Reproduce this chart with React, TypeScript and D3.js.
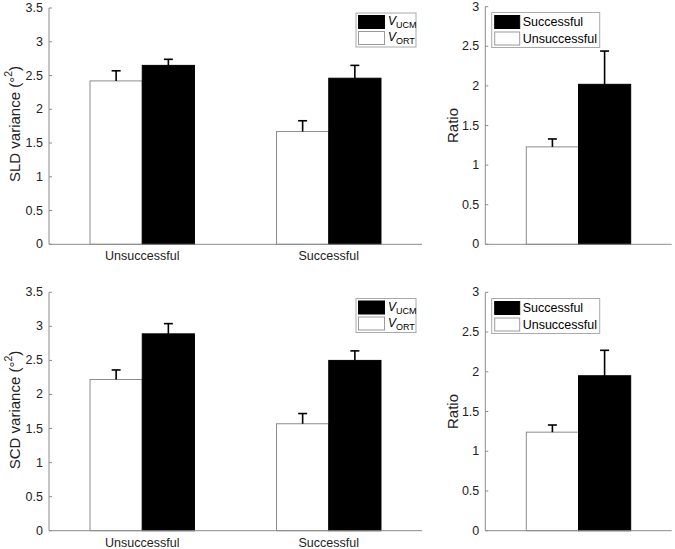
import React from "react";
import * as d3 from "d3";

const groups = ["Unsuccessful", "Successful"];
const series = ["VORT", "VUCM"];

const sldMean = [[2.42, 2.65], [1.67, 2.46]]; // [group][series: ORT, UCM]
const sldErr = [[2.57, 2.74], [1.83, 2.65]];
const scdMean = [[2.22, 2.89], [1.57, 2.5]];
const scdErr = [[2.36, 3.04], [1.72, 2.64]];

const ratioCats = ["Unsuccessful", "Successful"];
const ratioTopMean = [1.23, 2.02];
const ratioTopErr = [1.33, 2.44];
const ratioBotMean = [1.24, 1.95];
const ratioBotErr = [1.33, 2.27];

const leftTicks = [0, 0.5, 1, 1.5, 2, 2.5, 3, 3.5];
const rightTicks = [0, 0.5, 1, 1.5, 2, 2.5, 3];

const FONT = "'Liberation Sans', Arial, Helvetica, sans-serif";
const AXC = "#8c8c8c";

type BarSpec = { x: number; v: number; e: number; fill: string };

function Axes({ left, right, top, bottom, ymax, ticks, bars, xDomain, xLabels, ylabel, tickGap }: any) {
  const y = d3.scaleLinear().domain([0, ymax]).range([bottom, top]);
  const x = d3.scaleLinear().domain(xDomain).range([left, right]);
  const bw = x(xDomain[0] + 0.28) - x(xDomain[0]);
  return (
    <g>
      {bars.map((b: BarSpec, i: number) => {
        const x0 = x(b.x) - bw / 2;
        return (
          <g key={i}>
            <rect x={x0} y={y(b.v)} width={bw} height={y(0) - y(b.v)} fill={b.fill}
              stroke={b.fill === "#000" ? "#000" : AXC} strokeWidth={1} />
            <line x1={x(b.x)} x2={x(b.x)} y1={y(b.v)} y2={y(b.e)} stroke="#000" strokeWidth={1.6} />
            <line x1={x(b.x) - 4.5} x2={x(b.x) + 4.5} y1={y(b.e)} y2={y(b.e)} stroke="#000" strokeWidth={1.6} />
          </g>
        );
      })}
      <line x1={left} x2={left} y1={top} y2={bottom} stroke={AXC} strokeWidth={1} />
      <line x1={left} x2={right} y1={bottom} y2={bottom} stroke={AXC} strokeWidth={1} />
      {ticks.map((t: number) => (
        <g key={t}>
          <line x1={left} x2={left + 3} y1={y(t)} y2={y(t)} stroke={AXC} />
          <text x={left - tickGap} y={y(t)} textAnchor="end" dominantBaseline="central"
            fontSize={12.5} fontFamily={FONT} fill="#222">{String(t)}</text>
        </g>
      ))}
      {xLabels.map((l: any, i: number) => (
        <text key={i} x={x(l.x)} y={bottom + 12} textAnchor="middle" dominantBaseline="central"
          fontSize={12.5} fontFamily={FONT} fill="#222">{l.label}</text>
      ))}
      {ylabel}
    </g>
  );
}

function VarLegend({ x, y }: { x: number; y: number }) {
  return (
    <g fontFamily={FONT}>
      <rect x={x} y={y} width={60} height={34} fill="#fff" stroke="#aaa" />
      <rect x={x + 2.5} y={y + 2.5} width={26} height={13} fill="#000" stroke="#000" />
      <rect x={x + 2.5} y={y + 18.5} width={26} height={13} fill="#fff" stroke="#999" />
      <text x={x + 32} y={y + 12} fontSize={12} fill="#000">
        <tspan fontStyle="italic">V</tspan>
        <tspan fontSize={9} dy={3}>UCM</tspan>
      </text>
      <text x={x + 32} y={y + 28} fontSize={12} fill="#000">
        <tspan fontStyle="italic">V</tspan>
        <tspan fontSize={9} dy={3}>ORT</tspan>
      </text>
    </g>
  );
}

function RatioLegend({ x, y }: { x: number; y: number }) {
  return (
    <g fontFamily={FONT}>
      <rect x={x} y={y} width={108} height={35} fill="#fff" stroke="#aaa" />
      <rect x={x + 3} y={y + 3} width={25} height={13} fill="#000" stroke="#000" />
      <rect x={x + 3} y={y + 19.5} width={25} height={13} fill="#fff" stroke="#999" />
      <text x={x + 31} y={y + 9.5} fontSize={12.5} dominantBaseline="central" fill="#000">{ratioCats[1]}</text>
      <text x={x + 31} y={y + 26} fontSize={12.5} dominantBaseline="central" fill="#000">{ratioCats[0]}</text>
    </g>
  );
}

function varBars(mean: number[][], err: number[][]): BarSpec[] {
  const out: BarSpec[] = [];
  groups.forEach((g, gi) => {
    series.forEach((s, si) => {
      out.push({ x: gi + 1 + (si === 0 ? -0.14 : 0.14), v: mean[gi][si], e: err[gi][si], fill: si === 0 ? "#fff" : "#000" });
    });
  });
  return out;
}

function ratioBars(mean: number[], err: number[]): BarSpec[] {
  return ratioCats.map((c, i) => ({ x: 1 + (i === 0 ? -0.14 : 0.14), v: mean[i], e: err[i], fill: i === 0 ? "#fff" : "#000" }));
}

function VarLabel({ name, cy }: { name: string; cy: number }) {
  return (
    <text transform={`translate(14,${cy}) rotate(-90)`} textAnchor="middle" dominantBaseline="central"
      fontSize={15} fontFamily={FONT} fill="#222">
      {name} variance (°<tspan fontSize={10.5} dy={-6}>2</tspan><tspan dy={6}>)</tspan>
    </text>
  );
}

function RatioLabel({ cy }: { cy: number }) {
  return (
    <text transform={`translate(452,${cy}) rotate(-90)`} textAnchor="middle" dominantBaseline="central"
      fontSize={15} fontFamily={FONT} fill="#222">Ratio</text>
  );
}

export default function App() {
  const xl = groups.map((g, i) => ({ x: i + 1, label: g }));
  return (
    <svg width={675} height={549} style={{ position: "absolute", left: 0, top: 0, background: "#fff" }}>
      <Axes left={49} right={422} top={8} bottom={244.3} ymax={3.5} ticks={leftTicks}
        bars={varBars(sldMean, sldErr)} xDomain={[0.5, 2.5]} xLabels={xl} tickGap={6}
        ylabel={<VarLabel name="SLD" cy={124} />} />
      <VarLegend x={356} y={13} />
      <Axes left={49} right={422} top={292.3} bottom={530.7} ymax={3.5} ticks={leftTicks}
        bars={varBars(scdMean, scdErr)} xDomain={[0.5, 2.5]} xLabels={xl} tickGap={6}
        ylabel={<VarLabel name="SCD" cy={410} />} />
      <VarLegend x={356} y={298.5} />
      <Axes left={485.3} right={671.7} top={6.7} bottom={244.3} ymax={3} ticks={rightTicks}
        bars={ratioBars(ratioTopMean, ratioTopErr)} xDomain={[0.5, 1.5]} xLabels={[]} tickGap={6}
        ylabel={<RatioLabel cy={125.5} />} />
      <RatioLegend x={491.7} y={12.5} />
      <Axes left={485.3} right={671.7} top={292.3} bottom={530.7} ymax={3} ticks={rightTicks}
        bars={ratioBars(ratioBotMean, ratioBotErr)} xDomain={[0.5, 1.5]} xLabels={[]} tickGap={6}
        ylabel={<RatioLabel cy={411.5} />} />
      <RatioLegend x={491.7} y={298.5} />
    </svg>
  );
}
